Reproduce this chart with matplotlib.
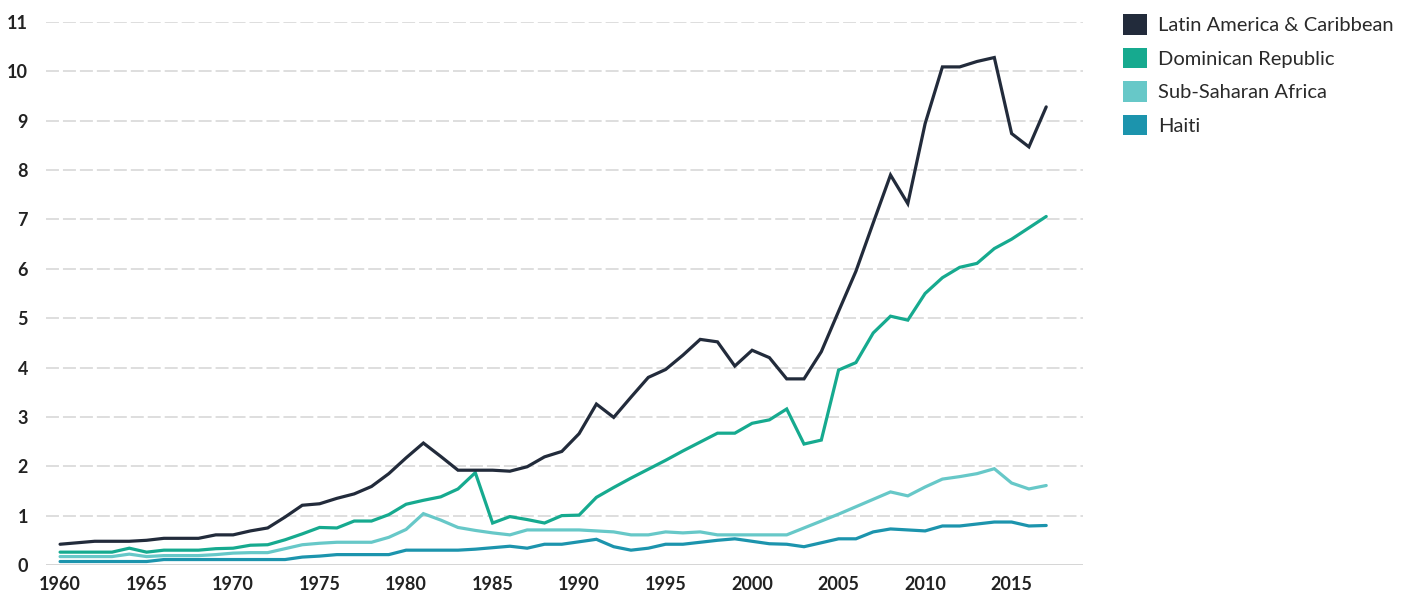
import matplotlib
matplotlib.use("Agg")
import matplotlib.pyplot as plt
from matplotlib.patches import Patch

years = list(range(1960, 2018))

latin_america = [0.42, 0.45, 0.48, 0.48, 0.48, 0.50, 0.54, 0.54, 0.54, 0.61,
                 0.61, 0.69, 0.75, 0.97, 1.21, 1.24, 1.35, 1.44, 1.59, 1.85,
                 2.17, 2.47, 2.20, 1.92, 1.92, 1.92, 1.90, 1.99, 2.19, 2.30,
                 2.66, 3.26, 2.99, 3.40, 3.80, 3.96, 4.25, 4.57, 4.52, 4.03,
                 4.35, 4.20, 3.77, 3.77, 4.32, 5.14, 5.95, 6.93, 7.90, 7.32,
                 8.94, 10.09, 10.09, 10.20, 10.28, 8.74, 8.47, 9.28]

dominican_rep = [0.26, 0.26, 0.26, 0.26, 0.34, 0.26, 0.30, 0.30, 0.30, 0.33,
                 0.34, 0.40, 0.41, 0.51, 0.63, 0.76, 0.75, 0.89, 0.89, 1.02,
                 1.23, 1.31, 1.38, 1.54, 1.87, 0.85, 0.98, 0.92, 0.85, 1.00,
                 1.01, 1.37, 1.57, 1.76, 1.94, 2.12, 2.31, 2.49, 2.67, 2.67,
                 2.87, 2.94, 3.16, 2.45, 2.53, 3.95, 4.10, 4.70, 5.04, 4.96,
                 5.50, 5.82, 6.03, 6.11, 6.41, 6.60, 6.83, 7.06]

sub_saharan = [0.17, 0.17, 0.17, 0.17, 0.22, 0.17, 0.19, 0.19, 0.19, 0.21,
               0.24, 0.25, 0.25, 0.33, 0.41, 0.44, 0.46, 0.46, 0.46, 0.56,
               0.72, 1.04, 0.91, 0.76, 0.70, 0.65, 0.61, 0.71, 0.71, 0.71,
               0.71, 0.69, 0.67, 0.61, 0.61, 0.67, 0.65, 0.67, 0.61, 0.61,
               0.61, 0.61, 0.61, 0.75, 0.89, 1.03, 1.18, 1.33, 1.48, 1.40,
               1.58, 1.74, 1.79, 1.85, 1.95, 1.66, 1.54, 1.61]

haiti = [0.07, 0.07, 0.07, 0.07, 0.07, 0.07, 0.11, 0.11, 0.11, 0.11,
         0.11, 0.11, 0.11, 0.11, 0.16, 0.18, 0.21, 0.21, 0.21, 0.21,
         0.30, 0.30, 0.30, 0.30, 0.32, 0.35, 0.38, 0.34, 0.42, 0.42,
         0.47, 0.52, 0.37, 0.30, 0.34, 0.42, 0.42, 0.46, 0.50, 0.53,
         0.48, 0.43, 0.42, 0.37, 0.45, 0.53, 0.53, 0.67, 0.73, 0.71,
         0.69, 0.79, 0.79, 0.83, 0.87, 0.87, 0.79, 0.80]

series = [
    ("Latin America & Caribbean", latin_america, "#222b3b"),
    ("Dominican Republic", dominican_rep, "#16aa8f"),
    ("Sub-Saharan Africa", sub_saharan, "#67c8c8"),
    ("Haiti", haiti, "#1c94ad"),
]

plt.rcParams["font.family"] = ["Lato", "DejaVu Sans"]

fig = plt.figure(figsize=(14.13, 5.99), dpi=100)
ax = fig.add_axes([0.0326, 0.0568, 0.7339, 0.9065])

# draw in reverse so the dark line sits on top
for name, vals, col in reversed(series):
    ax.plot(years, vals, color=col, lw=2.3, solid_joinstyle="miter",
            solid_capstyle="round", clip_on=False, zorder=3)

ax.set_xlim(1959.19, 2019.13)
ax.set_ylim(0, 11)
ax.set_xticks(range(1960, 2016, 5))
ax.set_yticks(range(0, 12))

for s in ax.spines.values():
    s.set_visible(False)
ax.axhline(0, color="#d2d2d2", lw=1.3, zorder=1)
for yv in range(1, 12):
    ax.axhline(yv, color="#d5d5d5", lw=1.1, linestyle=(0, (8.5, 2.6)), zorder=1)

ax.tick_params(length=0, labelsize=13, labelcolor="#222222", pad=8)
for lab in ax.get_xticklabels() + ax.get_yticklabels():
    lab.set_fontweight("bold")
ax.tick_params(axis="y", pad=13)

handles = [Patch(facecolor=c, edgecolor="none", label=n) for n, v, c in series]
leg = fig.legend(handles=handles, loc="upper left", bbox_to_anchor=(0.789, 0.99),
                 frameon=False, fontsize=14.5, handlelength=1.2, handleheight=1.2,
                 handletextpad=0.55, labelspacing=0.64, borderaxespad=0)
for t in leg.get_texts():
    t.set_color("#2a2a2a")

fig.savefig("out.png", dpi=100)
